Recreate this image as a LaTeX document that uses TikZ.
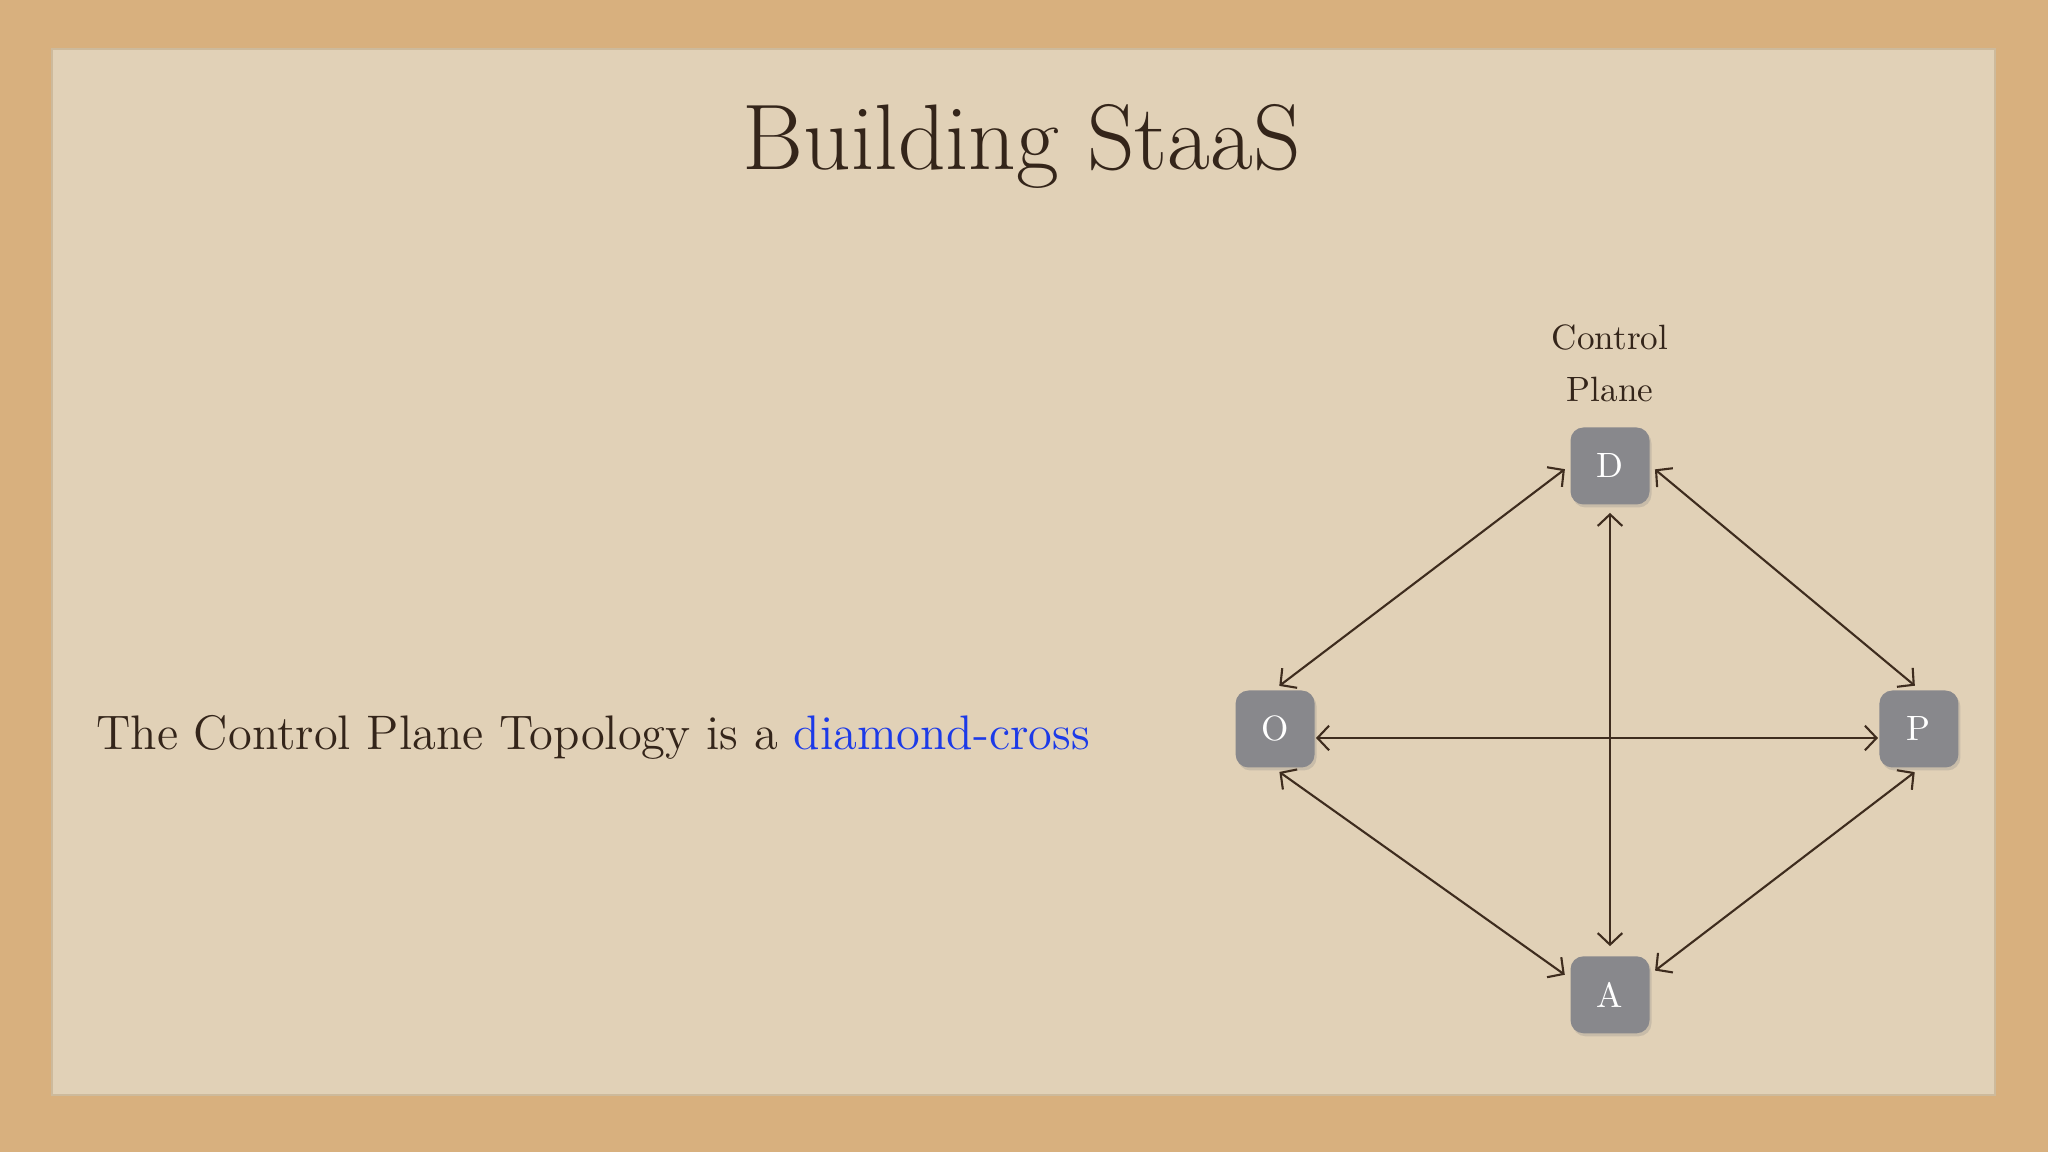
\documentclass[tikz,border=0pt]{standalone}
\usepackage{fontspec}
\usepackage{tikz}
\usetikzlibrary{shapes.geometric, arrows, arrows.meta, shadows}
\usetikzlibrary{positioning}
\definecolor{sand}{RGB}{216,176,126}
\definecolor{paper}{RGB}{225,209,183}
\definecolor{paperedge}{RGB}{205,186,156}
\definecolor{ink}{RGB}{52,37,26}
\definecolor{linkbrown}{RGB}{62,44,30}
\definecolor{boxgray}{RGB}{136,136,140}
\definecolor{linkblue}{RGB}{28,58,232}
\tikzstyle{box} = [rectangle, rounded corners=0.13cm, minimum width=0.79cm, minimum
height=0.77cm, fill=boxgray, text=white, font=\fontsize{10}{12}\selectfont,
drop shadow={opacity=0.25, shadow xshift=0.02cm, shadow yshift=-0.03cm}]
\tikzstyle{link} = [<->, >={Straight Barb[length=3.3pt, width=7pt]}, line width=0.6pt,
color=linkbrown, shorten <=1.5pt, shorten >=1.5pt]

\begin{document}
\begin{tikzpicture}[node distance=1cm, thick]
  \useasboundingbox (0,0) rectangle (20.48,11.52);
  \fill[sand] (0,0) rectangle (20.48,11.52);
  \fill[paper, draw=paperedge, line width=0.3pt] (0.52,0.57) rectangle (19.95,11.03);

  \node (title) [anchor=base, text=ink, font=\fontsize{26.5}{32}\selectfont] at (10.22,9.82)
  {Building StaaS};
  \node (claim) [anchor=base west, inner sep=0pt, text=ink, font=\fontsize{13.8}{16}\selectfont]
  at (0.95,4.02) {The Control Plane Topology is a \textcolor{linkblue}{diamond-cross}};

  \coordinate (mid) at (16.10,4.23);
  \node (dnode) [box] at (16.10,6.86) {D};
  \node (anode) [box, below=4.49cm of dnode] {A};
  \node (onode) [box, left=2.94cm of mid] {O};
  \node (pnode) [box, right=2.68cm of mid] {P};

  \node (cplabel) [above=0.19cm of dnode, align=center, text=ink, inner sep=1pt,
  font=\fontsize{10}{14.8}\selectfont] {Control\\Plane};

  \draw [link] (dnode.west) -- (onode.north);
  \draw [link] (dnode.east) -- (pnode.north);
  \draw [link, shorten <=2pt, shorten >=2.5pt] (dnode.south) -- (anode.north);
  \draw [link, shorten <=0pt, shorten >=0pt] ([yshift=-0.09cm]onode.east) --
  ([yshift=-0.09cm]pnode.west);
  \draw [link] (onode.south) -- ([yshift=0.17cm]anode.west);
  \draw [link] (pnode.south) -- ([yshift=0.21cm]anode.east);

\end{tikzpicture}
\end{document}
